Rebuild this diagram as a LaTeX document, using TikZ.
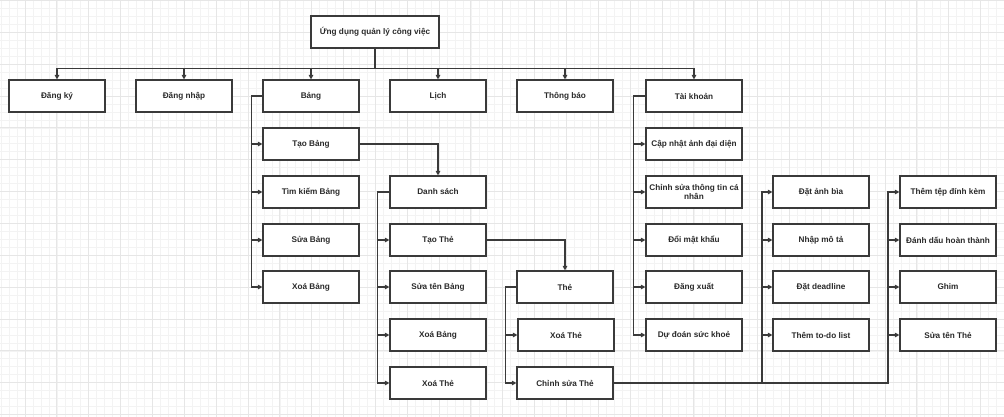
\documentclass[tikz,border=0pt]{standalone}
\usepackage{fontspec}
\setmainfont{Liberation Sans}
\usetikzlibrary{arrows.meta}
\definecolor{ln}{HTML}{3A3A3A}
\definecolor{tx}{HTML}{2A2A2A}
\definecolor{gminor}{HTML}{F3F3F3}
\definecolor{gmajor}{HTML}{E6E6E6}
\tikzset{
  box/.style={draw=ln, line width=1.15pt, fill=white, minimum width=96pt, minimum height=32pt,
    inner sep=1pt, font=\fontsize{8.2}{9.5}\selectfont\bfseries, text=tx, align=center},
  conn/.style={draw=ln, line width=1.15pt},
  arr/.style={conn, -{Triangle[length=4.5pt,width=4.5pt]}},
}
\begin{document}
\begin{tikzpicture}[x=1pt,y=-1pt]
\useasboundingbox (0,0) rectangle (1004,416);
\fill[white] (0,0) rectangle (1004,416);
\begin{scope}
\clip (0,0) rectangle (1004,416);
\begin{scope}[shift={(1.11,0.45)}]
\draw[gminor, line width=0.6pt, step=7.9625pt] (-20,-20) grid (1020,430);
\end{scope}
\begin{scope}[shift={(25,32.3)}]
\draw[gmajor, line width=0.9pt, step=31.85pt] (-40,-40) grid (1020,430);
\end{scope}
\end{scope}

% root
\node[box, minimum width=128pt] (root) at (375,32) {Ứng dụng quản lý công việc};
% row 1
\node[box] (dangky) at (57,96) {Đăng ký};
\node[box] (dangnhap) at (184,96) {Đăng nhập};
\node[box] (bang) at (311,96) {Bảng};
\node[box] (lich) at (438,96) {Lịch};
\node[box] (thongbao) at (565,96) {Thông báo};
\node[box] (taikhoan) at (694,96) {Tài khoản};
% Bang children
\node[box] (taobang) at (311,144) {Tạo Bảng};
\node[box] (timkiem) at (311,192) {Tìm kiếm Bảng};
\node[box] (suabang) at (311,240) {Sửa Bảng};
\node[box] (xoabang) at (311,287) {Xoá Bảng};
% Danh sach
\node[box] (danhsach) at (438,192) {Danh sách};
\node[box] (taothe) at (438,240) {Tạo Thẻ};
\node[box] (suaten) at (438,287) {Sửa tên Bảng};
\node[box] (xoabang2) at (438,335) {Xoá Bảng};
\node[box] (xoathe) at (438,383) {Xoá Thẻ};
% The
\node[box] (the) at (565,287) {Thẻ};
\node[box] (xoathe2) at (566,335) {Xoá Thẻ};
\node[box] (chinhsua) at (565,383) {Chỉnh sửa Thẻ};
% Tai khoan children
\node[box] (capnhat) at (694,144) {Cập nhật ảnh đại diện};
\node[box] (chinhtt) at (694,192) {Chỉnh sửa thông tin cá\\[-1pt]nhân};
\node[box] (doimk) at (694,240) {Đổi mật khẩu};
\node[box] (dangxuat) at (694,287) {Đăng xuất};
\node[box] (dudoan) at (694,335) {Dự đoán sức khoẻ};
% column 3
\node[box] (datanh) at (821,192) {Đặt ảnh bìa};
\node[box] (nhapmota) at (821,240) {Nhập mô tả};
\node[box] (deadline) at (821,287) {Đặt deadline};
\node[box] (todo) at (821,335) {Thêm to-do list};
% column 4
\node[box] (themtep) at (948,192) {Thêm tệp đính kèm};
\node[box] (danhdau) at (948,240) {Đánh dấu hoàn thành};
\node[box] (ghim) at (948,287) {Ghim};
\node[box] (suatenthe) at (948,335) {Sửa tên Thẻ};

% root bus
\foreach \c in {dangky,dangnhap,bang,lich,thongbao,taikhoan}
  \draw[arr] (root.south) -- ++(0,20) -| (\c.north);
% Bang
\foreach \c in {taobang,timkiem,suabang,xoabang}
  \draw[arr] (bang.west) -- ++(-11,0) |- (\c.west);
\draw[arr] (taobang.east) -| (danhsach.north);
% Danh sach
\foreach \c in {taothe,suaten,xoabang2,xoathe}
  \draw[arr] (danhsach.west) -- ++(-12,0) |- (\c.west);
\draw[arr] (taothe.east) -| (the.north);
% The
\foreach \c in {xoathe2,chinhsua}
  \draw[arr] (the.west) -- ++(-11,0) |- (\c.west);
% Tai khoan
\foreach \c in {capnhat,chinhtt,doimk,dangxuat,dudoan}
  \draw[arr] (taikhoan.west) -- ++(-12,0) |- (\c.west);
% Chinh sua The
\coordinate (j1) at (762,383);
\coordinate (j2) at (888,383);
\foreach \c in {datanh,nhapmota,deadline,todo}
  \draw[arr] (chinhsua.east) -- (j1) |- (\c.west);
\foreach \c in {themtep,danhdau,ghim,suatenthe}
  \draw[arr] (chinhsua.east) -- (j2) |- (\c.west);
\end{tikzpicture}
\end{document}
